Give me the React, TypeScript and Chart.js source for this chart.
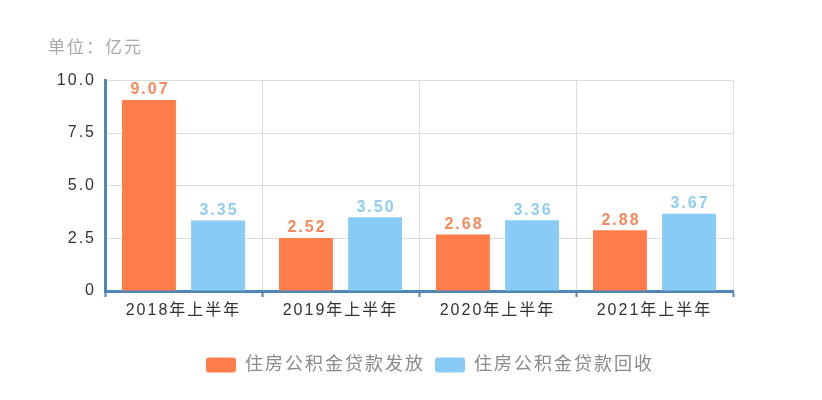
import React, { useEffect, useRef } from "react";
import { Chart, registerables } from "chart.js";

Chart.register(...registerables);

const categories = ["2018年上半年", "2019年上半年", "2020年上半年", "2021年上半年"];
const issuedValues = [9.07, 2.52, 2.68, 2.88];
const recoveredValues = [3.35, 3.5, 3.36, 3.67];
const seriesNames = ["住房公积金贷款发放", "住房公积金贷款回收"];
const unitLabel = "单位：亿元";

const FONT = '"Liberation Sans", "Noto Sans CJK SC", sans-serif';
const ORANGE = "#ff7d4a";
const BLUE = "#88cbf6";
const ORANGE_LABEL = "#f5885c";
const BLUE_LABEL = "#8fcdf0";
const AXIS = "#5186b2";
const GRID = "#dcdcdc";

const spacingPlugin = {
  id: "spacing",
  beforeLayout(chart: any) {
    chart.ctx.letterSpacing = "2px";
  },
  beforeDraw(chart: any) {
    chart.ctx.letterSpacing = "2px";
  },
  afterLayout(chart: any) {
    const lg = chart.legend;
    if (lg) {
      lg.left += 11;
      lg.right += 11;
    }
  },
};

const valueLabelPlugin = {
  id: "valueLabels",
  afterDatasetsDraw(chart: any) {
    const ctx = chart.ctx;
    ctx.save();
    ctx.letterSpacing = "2px";
    ctx.font = `bold 16px ${FONT}`;
    ctx.textAlign = "center";
    ctx.textBaseline = "bottom";
    chart.data.datasets.forEach((ds: any, i: number) => {
      const meta = chart.getDatasetMeta(i);
      ctx.fillStyle = i === 0 ? ORANGE_LABEL : BLUE_LABEL;
      meta.data.forEach((bar: any, j: number) => {
        ctx.fillText(Number(ds.data[j]).toFixed(2), bar.x + 1, bar.y - 2);
      });
    });
    ctx.restore();
  },
};

export default function App() {
  const ref = useRef<HTMLCanvasElement | null>(null);
  useEffect(() => {
    if (!ref.current) return;
    const chart = new Chart(ref.current, {
      type: "bar",
      data: {
        labels: categories,
        datasets: [
          {
            label: seriesNames[0],
            data: issuedValues,
            backgroundColor: ORANGE,
            categoryPercentage: 0.88,
            barPercentage: 0.78,
          },
          {
            label: seriesNames[1],
            data: recoveredValues,
            backgroundColor: BLUE,
            categoryPercentage: 0.88,
            barPercentage: 0.78,
          },
        ],
      },
      options: {
        animation: false,
        responsive: false,
        maintainAspectRatio: false,
        layout: { padding: { left: 48, right: 89, top: 0, bottom: 16 } },
        plugins: {
          title: {
            display: true,
            text: unitLabel,
            align: "start",
            color: "#a8a8a8",
            font: { family: FONT, size: 17, weight: "normal" },
            padding: { top: 38, bottom: 22 },
          },
          legend: {
            position: "bottom",
            fullSize: false,
            labels: {
              boxWidth: 30,
              boxHeight: 15,
              useBorderRadius: true,
              borderRadius: 3,
              color: "#8a8a8a",
              padding: 10,
              font: { family: FONT, size: 18 },
            },
          },
          tooltip: { enabled: false },
        },
        scales: {
          x: {
            grid: {
              color: GRID,
              offset: true,
              drawTicks: true,
              tickLength: 6,
              tickColor: AXIS,
              tickWidth: 2,
            },
            border: { color: AXIS, width: 3 },
            ticks: {
              color: "#333",
              padding: 4,
              font: { family: FONT, size: 16 },
              maxRotation: 0,
            },
            afterFit(scale: any) {
              scale.height = 55;
            },
          },
          y: {
            min: 0,
            max: 10,
            grid: { color: GRID, drawTicks: false },
            border: { color: AXIS, width: 3 },
            ticks: {
              stepSize: 2.5,
              color: "#333",
              padding: 9,
              font: { family: FONT, size: 16 },
              callback: (v: any) => (Number(v) === 0 ? "0" : Number(v).toFixed(1)),
            },
            afterFit(scale: any) {
              scale.width = 57;
            },
          },
        },
      },
      plugins: [spacingPlugin, valueLabelPlugin],
    } as any);
    return () => chart.destroy();
  }, []);
  return (
    <div style={{ position: "absolute", left: 0, top: 0, width: 822, height: 400, background: "#fff" }}>
      <canvas ref={ref} width={822} height={400} style={{ width: 822, height: 400 }} />
    </div>
  );
}
